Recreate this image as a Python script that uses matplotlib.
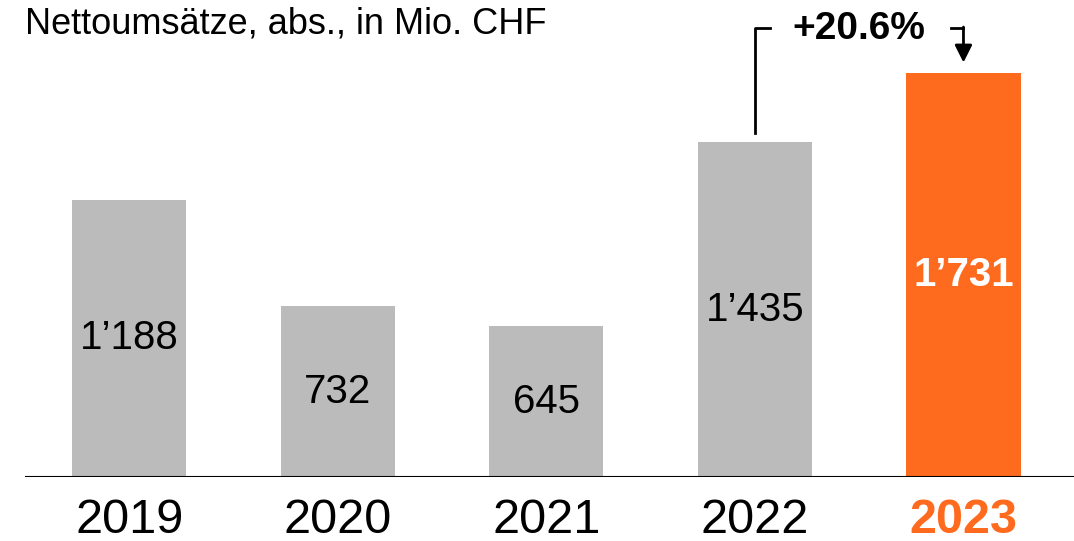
import matplotlib.pyplot as plt

plt.rcParams['font.family'] = ['Liberation Sans', 'DejaVu Sans']

# Daten
jahre = ['2019', '2020', '2021', '2022', '2023']
umsatz = [1188, 732, 645, 1435, 1731]
labels = ['1\u2019188', '732', '645', '1\u2019435', '1\u2019731']
wachstum = '+20.6%'

grau = '#bbbbbb'
orange = '#ff6b1e'
farben = [grau, grau, grau, grau, orange]

fig = plt.figure(figsize=(10.74, 5.41), dpi=100)
ax = fig.add_axes([25 / 1074, 64 / 541, 1049 / 1074, 477 / 541])

x = list(range(len(jahre)))
ax.bar(x, umsatz, width=0.547, color=farben, zorder=2)
ax.set_xlim(-0.5, 4.53)
ax.set_ylim(0, 2044)
ax.axis('off')
ax.axhline(0, color='black', lw=1.5, zorder=3)

# Werte in den Balken
for i, (v, lab) in enumerate(zip(umsatz, labels)):
    last = i == len(jahre) - 1
    ax.text(i, v / 2, lab, ha='center', va='center', fontsize=29,
            color='white' if last else 'black',
            fontweight='bold' if last else 'normal')
    ax.text(i, -185, jahre[i], ha='center', va='center', fontsize=35,
            color=orange if last else 'black',
            fontweight='bold' if last else 'normal', clip_on=False)

# Wachstum-Klammer
y_top = 1924
ax.plot([3, 3, 3.07], [umsatz[3] + 40, y_top, y_top], color='black', lw=2)
ax.plot([3.94, 4.0], [y_top, y_top], color='black', lw=2)
ax.annotate('', xy=(4.0, umsatz[4] + 45), xytext=(4.0, y_top + 4),
            arrowprops=dict(arrowstyle='-|>', color='black', lw=2,
                            mutation_scale=26, shrinkA=0, shrinkB=0))
ax.text(3.5, y_top - 5, wachstum, ha='center', va='center', fontsize=28,
        fontweight='bold')

fig.text(25 / 1074, 1 - 24 / 541, 'Nettoumsätze, abs., in Mio. CHF',
         ha='left', va='center', fontsize=26)

fig.savefig('out.png', dpi=100)
